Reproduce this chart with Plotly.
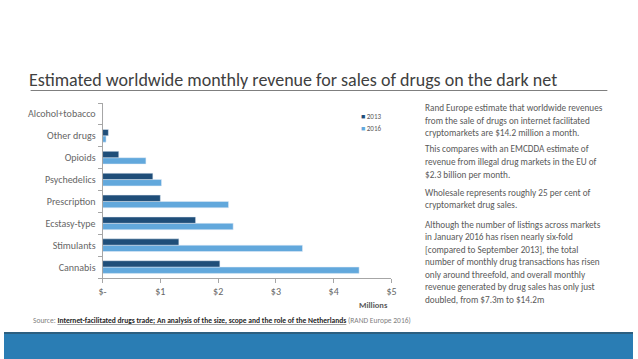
import plotly.graph_objects as go

categories = ["Cannabis", "Stimulants", "Ecstasy-type", "Prescription",
              "Psychedelics", "Opioids", "Other drugs", "Alcohol+tobacco"]
values_2013 = [2.03, 1.32, 1.61, 1.00, 0.87, 0.28, 0.10, 0.0]
values_2016 = [4.44, 3.46, 2.26, 2.18, 1.02, 0.75, 0.06, 0.0]
series_names = ["2013", "2016"]
x_tick_vals = [0, 1, 2, 3, 4, 5]
x_tick_text = ["$-", "$1", "$2", "$3", "$4", "$5"]

title_text = "Estimated worldwide monthly revenue for sales of drugs on the dark net"
paragraphs = [
    ["Rand Europe estimate that worldwide revenues",
     "from the sale of drugs on internet facilitated",
     "cryptomarkets are $14.2 million a month."],
    ["This compares with an EMCDDA estimate of",
     "revenue from illegal drug markets in the EU of",
     "$2.3 billion per month."],
    ["Wholesale represents roughly 25 per cent of",
     "cryptomarket drug sales."],
    ["Although the number of listings across markets",
     "in January 2016 has risen nearly six-fold",
     "[compared to September 2013], the total",
     "number of monthly drug transactions has risen",
     "only around threefold, and overall monthly",
     "revenue generated by drug sales has only just",
     "doubled, from $7.3m to $14.2m"],
]
para_tops = [107.7, 149.0, 192.3, 224.3]

W, H = 638, 359
FONT = "Carlito, Lato, sans-serif"
DARK = "#1F4E79"
LIGHT = "#62A8DC"
GREY = "#595959"

def py(px):
    return 1 - px / H

def pxx(px):
    return px / W

fig = go.Figure()
fig.add_trace(go.Bar(y=categories, x=values_2016, orientation="h", name=series_names[1],
                     marker_color=LIGHT, showlegend=False))
fig.add_trace(go.Bar(y=categories, x=values_2013, orientation="h", name=series_names[0],
                     marker_color=DARK, showlegend=False))

fig.update_layout(
    width=W, height=H,
    margin=dict(l=0, r=0, t=0, b=0),
    paper_bgcolor="white", plot_bgcolor="white",
    barmode="group", bargap=0.42, bargroupgap=0,
    showlegend=False,
    font=dict(family=FONT, color=GREY),
    xaxis=dict(domain=[pxx(100), pxx(393)], range=[0, 5], tickvals=x_tick_vals,
               ticktext=x_tick_text, showgrid=False, zeroline=False,
               showline=True, linecolor="#A6A6A6", linewidth=1,
               ticks="outside", ticklen=4, tickcolor="#A6A6A6",
               tickfont=dict(family=FONT, size=10, color="#666666"), anchor="y"),
    yaxis=dict(domain=[py(278), py(103)], showgrid=False, zeroline=False,
               showline=True, linecolor="#A6A6A6", linewidth=1,
               ticks="outside", ticklen=4, tickcolor="#A6A6A6",
               tickson="boundaries", ticklabelstandoff=4,
               tickfont=dict(family=FONT, size=10, color="#666666"), anchor="x"),
)

annotations = []
annotations.append(dict(text=title_text, x=pxx(23), y=py(80), xref="paper", yref="paper",
                        xanchor="left", yanchor="middle", showarrow=False,
                        font=dict(family=FONT, size=18, color="#404040", weight=300)))
annotations.append(dict(text="<b>Millions</b>", x=pxx(375), y=py(305), xref="paper",
                        yref="paper", xanchor="center", yanchor="middle", showarrow=False,
                        font=dict(family=FONT, size=8.5, color=GREY)))
# compact legend (square glyph + series name)
for name, color, ly in zip(series_names, [DARK, LIGHT], [116.7, 128.3]):
    annotations.append(dict(text=f"<span style='color:{color}'>■</span> {name}",
                            x=pxx(360), y=py(ly), xref="paper", yref="paper",
                            xanchor="left", yanchor="middle", showarrow=False,
                            font=dict(family=FONT, size=7, color=GREY)))
for para, top in zip(paragraphs, para_tops):
    for i, line in enumerate(para):
        annotations.append(dict(text=line, x=pxx(425), y=py(top + i * 12.5), xref="paper",
                                yref="paper", xanchor="left", yanchor="middle",
                                showarrow=False,
                                font=dict(family=FONT, size=9.2, color=GREY)))
source = ("Source: <u><b><span style='color:#262626'>Internet-facilitated drugs trade; "
          "An analysis of the size, scope and the role of the Netherlands</span></b></u>"
          " (RAND Europe 2016)")
annotations.append(dict(text=source, x=pxx(27), y=py(320), xref="paper", yref="paper",
                        xanchor="left", yanchor="middle", showarrow=False,
                        font=dict(family=FONT, size=7.5, color="#7F7F7F")))
fig.update_layout(annotations=annotations)

shapes = [
    dict(type="line", xref="paper", yref="paper", x0=pxx(27), x1=pxx(612),
         y0=py(90.5), y1=py(90.5), line=dict(color="#7F7F7F", width=1)),
    dict(type="rect", xref="paper", yref="paper", x0=0, x1=1, y0=0, y1=py(334),
         fillcolor="#2A7DB4", line=dict(width=0), layer="below"),
    dict(type="rect", xref="paper", yref="paper", x0=0, x1=1, y0=py(334), y1=py(332),
         fillcolor="#2C5F80", line=dict(width=0), layer="below"),
]
fig.update_layout(shapes=shapes)

fig.write_html("out.html", config={"displayModeBar": False},
               post_script="document.body.style.margin='0px';")
